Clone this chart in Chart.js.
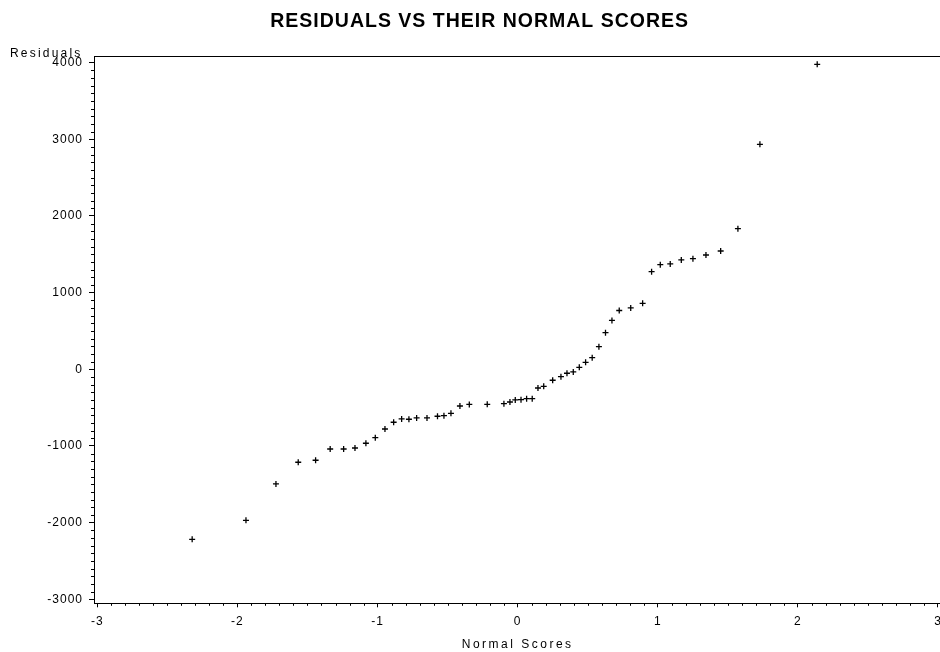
<!DOCTYPE html>
<html>
<head>
<meta charset="utf-8">
<script src="https://cdn.jsdelivr.net/npm/chart.js@4/dist/chart.umd.min.js"></script>
<style>
  html, body { margin: 0; padding: 0; background: #fff; overflow: hidden; width: 940px; height: 652px; }
  #wrap { width: 952px; height: 652px; }
</style>
</head>
<body>
<div id="wrap"><canvas id="c" width="952" height="652"></canvas></div>
<script>
const normalScores = [-2.323,-1.939,-1.725,-1.566,-1.442,-1.338,-1.242,-1.161,-1.083,-1.016,-0.947,-0.885,-0.828,-0.776,-0.721,-0.647,-0.572,-0.526,-0.476,-0.412,-0.345,-0.217,-0.098,-0.055,-0.017,0.024,0.064,0.104,0.145,0.186,0.250,0.309,0.352,0.397,0.440,0.485,0.532,0.580,0.627,0.673,0.725,0.807,0.892,0.956,1.018,1.089,1.168,1.251,1.344,1.449,1.572,1.729,2.138];
const residuals = [-2218,-1970,-1496,-1213,-1187,-1040,-1040,-1027,-965,-892,-779,-691,-648,-652,-635,-635,-613,-605,-574,-479,-459,-457,-449,-427,-400,-397,-384,-384,-244,-222,-143,-97,-52,-35,26,91,151,295,477,637,767,800,861,1273,1365,1374,1426,1443,1491,1543,1834,2935,3979];
const xTickValues = [-3,-2,-1,0,1,2,3];
const yTickValues = [-3000,-2000,-1000,0,1000,2000,3000,4000];
const chartTitle = 'RESIDUALS VS THEIR NORMAL SCORES';
const xTitle = 'Normal Scores';
const yTitle = 'Residuals';

const FONT = "'Liberation Sans', Arial, Helvetica, sans-serif";

const spacingPlugin = {
  id: 'spacing',
  beforeUpdate(chart) { chart.ctx.letterSpacing = '1px'; },
  beforeDraw(chart) { chart.ctx.letterSpacing = '1px'; }
};

const framePlugin = {
  id: 'frame',
  afterDraw(chart) {
    const ctx = chart.ctx;
    const a = chart.chartArea;
    const xs = chart.scales.x, ys = chart.scales.y;
    ctx.save();
    ctx.strokeStyle = '#000';
    ctx.lineWidth = 1;
    ctx.beginPath();
    ctx.moveTo(a.left, a.top + 0.5);
    ctx.lineTo(chart.width, a.top + 0.5);
    ctx.moveTo(a.right + 0.5, a.top);
    ctx.lineTo(a.right + 0.5, a.bottom);
    // minor ticks on y
    for (let v = -3000; v <= 4000; v += 100) {
      if (v % 1000 === 0) continue;
      const p = Math.round(ys.getPixelForValue(v)) + 0.5;
      ctx.moveTo(a.left - 3, p);
      ctx.lineTo(a.left, p);
    }
    // minor ticks on x
    for (let i = -30; i <= 30; i++) {
      if (i % 10 === 0) continue;
      const p = Math.round(xs.getPixelForValue(i / 10)) + 0.5;
      ctx.moveTo(p, a.bottom);
      ctx.lineTo(p, a.bottom + 2.5);
    }
    ctx.stroke();
    // axis titles
    ctx.fillStyle = '#000';
    ctx.font = '12px ' + FONT;
    ctx.letterSpacing = '2.2px';
    ctx.textAlign = 'left';
    ctx.textBaseline = 'alphabetic';
    ctx.fillText(yTitle, 10, 56.5);
    ctx.letterSpacing = '2.5px';
    ctx.textAlign = 'center';
    ctx.fillText(xTitle, (a.left + a.right) / 2, 647.5);
    ctx.restore();
  }
};

new Chart(document.getElementById('c'), {
  type: 'scatter',
  data: {
    datasets: [{
      data: normalScores.map((x, i) => ({ x: x, y: residuals[i] })),
      pointStyle: 'cross',
      radius: 3,
      borderColor: '#000',
      backgroundColor: '#000',
      borderWidth: 1.3
    }]
  },
  options: {
    responsive: false,
    animation: false,
    devicePixelRatio: 1,
    layout: { padding: { left: 18, right: 10.7, top: 0, bottom: 0 } },
    plugins: {
      legend: { display: false },
      tooltip: { enabled: false },
      title: {
        display: true,
        text: chartTitle,
        color: '#000',
        font: { family: FONT, size: 19.5, weight: 'bold', lineHeight: 1.2 },
        padding: { top: 9.5, bottom: 23.1 }
      }
    },
    scales: {
      x: {
        type: 'linear',
        min: -3.0236,
        max: 3.0236,
        afterBuildTicks: (s) => { s.ticks = xTickValues.map(v => ({ value: v })); },
        afterFit: (s) => { s.height = 48.7; },
        ticks: { color: '#000', font: { family: FONT, size: 12 }, padding: 7, callback: (v) => String(v) },
        grid: { display: true, drawOnChartArea: false, drawTicks: true, tickLength: 4, color: '#000', lineWidth: 1 },
        border: { display: true, color: '#000', width: 1 }
      },
      y: {
        type: 'linear',
        min: -3053,
        max: 4087,
        afterBuildTicks: (s) => { s.ticks = yTickValues.map(v => ({ value: v })); },
        afterFit: (s) => { s.width = 76; },
        ticks: { color: '#000', font: { family: FONT, size: 12 }, padding: 6, callback: (v) => String(v) },
        grid: { display: true, drawOnChartArea: false, drawTicks: true, tickLength: 5, color: '#000', lineWidth: 1 },
        border: { display: true, color: '#000', width: 1 }
      }
    }
  },
  plugins: [spacingPlugin, framePlugin]
});
</script>
</body>
</html>
